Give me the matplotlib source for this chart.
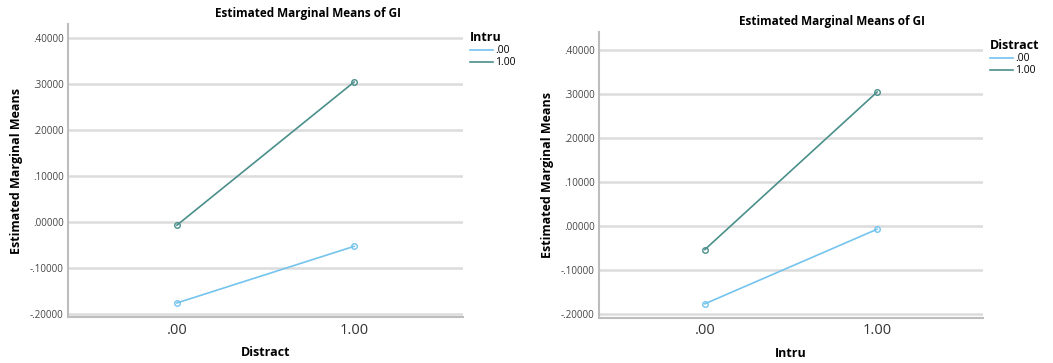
import numpy as np
import matplotlib.pyplot as plt
from matplotlib.ticker import FuncFormatter
from matplotlib.lines import Line2D

# estimated marginal means of GI
levels = [0, 1]
level_labels = [".00", "1.00"]
# left chart: x = Distract, lines = Intru
intru0 = [-0.176, -0.053]
intru1 = [-0.007, 0.304]
# right chart: x = Intru, lines = Distract
distract0 = [-0.176, -0.007]
distract1 = [-0.053, 0.304]
yticks = [-0.2, -0.1, 0.0, 0.1, 0.2, 0.3, 0.4]

light = "#74c4ee"
dark = "#4a8f8b"


def fmt(v, pos):
    # SPSS style: drop the leading zero
    s = "%.5f" % v
    return s.replace("0.", ".", 1)


plt.rcParams['font.family'] = ['Open Sans', 'DejaVu Sans']

fig = plt.figure(figsize=(10.53, 3.63), dpi=100)


def draw(ax, a, b, xlabel, legtitle, ylim):
    for yt in yticks:
        ax.axhline(yt, color="#dcdcdc", lw=1.8, zorder=0)
    ax.plot(levels, a, color=light, lw=1.2, marker="o", ms=4, mfc="none", mew=1.0)
    ax.plot(levels, b, color=dark, lw=1.2, marker="o", ms=4, mfc="none", mew=1.0)
    ax.set_xlim(-0.615, 1.615)
    ax.set_ylim(*ylim)
    ax.set_xticks(levels)
    ax.set_xticklabels(level_labels, fontsize=10.5, color="#333333")
    ax.set_yticks(yticks)
    ax.yaxis.set_major_formatter(FuncFormatter(fmt))
    ax.tick_params(axis="y", labelsize=7, colors="#444444", length=0, pad=3)
    ax.tick_params(axis="x", length=0, pad=4)
    for s in ["top", "right"]:
        ax.spines[s].set_visible(False)
    for s in ["left", "bottom"]:
        ax.spines[s].set_color("#bdbdbd")
        ax.spines[s].set_linewidth(1.5)
    ax.set_xlabel(xlabel, fontsize=9, fontweight="bold", labelpad=6)
    ax.set_ylabel("Estimated Marginal Means", fontsize=9, fontweight="bold", labelpad=5)
    handles = [Line2D([], [], color=light, lw=1.2), Line2D([], [], color=dark, lw=1.2)]
    leg = ax.legend(handles, level_labels, title=legtitle, loc="upper left",
                    bbox_to_anchor=(1.0, 1.0), frameon=False, fontsize=7.5,
                    handlelength=2.2, handletextpad=0.2, labelspacing=0.1,
                    borderaxespad=0.3)
    leg.get_title().set_fontweight("bold")
    leg.get_title().set_fontsize(9)
    leg._legend_box.align = "left"


ax1 = fig.add_axes([68 / 1053, 46 / 363, 395 / 1053, 293 / 363])
draw(ax1, intru0, intru1, "Distract", "Intru", (-0.2065, 0.43))
fig.text(308 / 1053, 1 - 14 / 363, "Estimated Marginal Means of GI", ha="center", va="center",
         fontsize=8.5, fontweight="bold")

ax2 = fig.add_axes([599 / 1053, 45.3 / 363, 384 / 1053, 285.7 / 363])
draw(ax2, distract0, distract1, "Intru", "Distract", (-0.2075, 0.44))
fig.text(832 / 1053, 1 - 22 / 363, "Estimated Marginal Means of GI", ha="center", va="center",
         fontsize=8.5, fontweight="bold")

fig.savefig("out.png", dpi=100)
